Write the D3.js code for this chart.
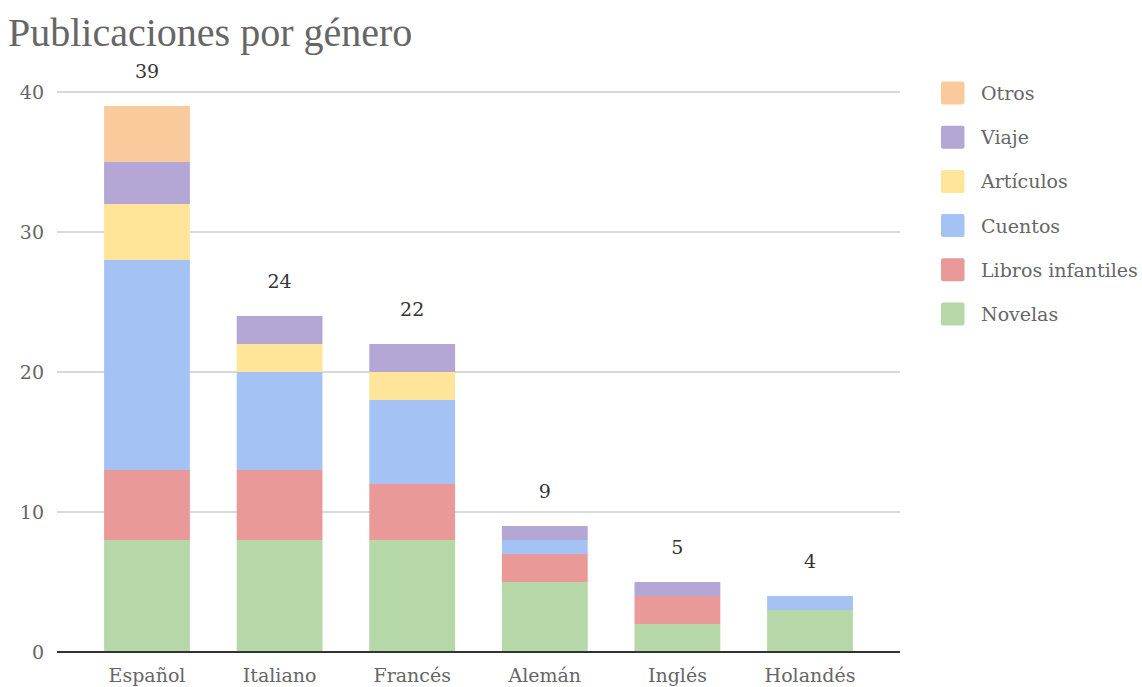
<!DOCTYPE html>
<html><head><meta charset="utf-8">
<script src="https://cdn.jsdelivr.net/npm/d3@7"></script>
<style>body{margin:0;background:#fff}svg{display:block}</style>
</head><body>
<svg id="c" width="1142" height="687"></svg>
<script>
const categories = ["Español","Italiano","Francés","Alemán","Inglés","Holandés"];
const seriesNames = ["Novelas","Libros infantiles","Cuentos","Artículos","Viaje","Otros"];
const novelas = [8,8,8,5,2,3];
const librosInfantiles = [5,5,4,2,2,0];
const cuentos = [15,7,6,1,0,1];
const articulos = [4,2,2,0,0,0];
const viaje = [3,2,2,1,1,0];
const otros = [4,0,0,0,0,0];
const yTicks = [0,10,20,30,40];
const colors = ["#b6d7a8","#ea9999","#a4c2f4","#ffe599","#b4a7d6","#f9cb9c"];

const seriesValues = [novelas, librosInfantiles, cuentos, articulos, viaje, otros];
const rows = categories.map((c,i)=>{const r={cat:c}; seriesNames.forEach((s,j)=>r[s]=seriesValues[j][i]); return r;});
const stacked = d3.stack().keys(seriesNames)(rows);

const svg = d3.select("#c");
const font = "'DejaVu Serif', serif";
const x = d3.scaleBand().domain(categories).range([57,900]).paddingInner(0.353).paddingOuter(0.355);
const y = d3.scaleLinear().domain([0,40]).range([652,92]);

svg.append("text").attr("x",8).attr("y",46).attr("font-family","'Liberation Serif', serif").attr("font-size",40)
  .attr("fill","#666").text("Publicaciones por género");

// grid
svg.append("g").selectAll("line").data(yTicks.filter(d=>d>0)).join("line")
  .attr("x1",57).attr("x2",900).attr("y1",d=>y(d)).attr("y2",d=>y(d))
  .attr("stroke","#cccccc").attr("stroke-width",1.5);

// y labels
svg.append("g").selectAll("text").data(yTicks).join("text")
  .attr("x",44).attr("y",d=>y(d)+7).attr("text-anchor","end")
  .attr("font-family",font).attr("font-size",19).attr("fill","#666").text(d=>d);

// bars
stacked.forEach((layer,j)=>{
  svg.append("g").selectAll("rect").data(layer.filter(d=>d[1]>d[0])).join("rect")
    .attr("x",d=>x(d.data.cat)).attr("width",x.bandwidth())
    .attr("y",d=>y(d[1])).attr("height",d=>y(d[0])-y(d[1]))
    .attr("fill",colors[j]);
});

// axis line
svg.append("line").attr("x1",57).attr("x2",900).attr("y1",y(0)).attr("y2",y(0))
  .attr("stroke","#333").attr("stroke-width",2);

// x labels
svg.append("g").selectAll("text").data(categories).join("text")
  .attr("x",d=>x(d)+x.bandwidth()/2).attr("y",682).attr("text-anchor","middle")
  .attr("font-family",font).attr("font-size",19).attr("fill","#666").text(d=>d);

// totals
const totals = rows.map(r=>({cat:r.cat,t:d3.sum(seriesNames,s=>r[s])}));
svg.append("g").selectAll("text").data(totals).join("text")
  .attr("x",d=>x(d.cat)+x.bandwidth()/2).attr("y",d=>y(d.t)-28).attr("text-anchor","middle")
  .attr("font-family",font).attr("font-size",19).attr("fill","#333").text(d=>d.t);

// legend
const legendOrder = seriesNames.slice().reverse();
const lg = svg.append("g").selectAll("g").data(legendOrder).join("g")
  .attr("transform",(d,i)=>`translate(941,${93+i*44.2})`);
lg.append("rect").attr("x",0).attr("y",-11.5).attr("width",23.5).attr("height",23).attr("rx",2)
  .attr("fill",d=>colors[seriesNames.indexOf(d)]);
lg.append("text").attr("x",40).attr("y",7).attr("font-family",font).attr("font-size",19)
  .attr("fill","#666").text(d=>d);
</script>
</body></html>
